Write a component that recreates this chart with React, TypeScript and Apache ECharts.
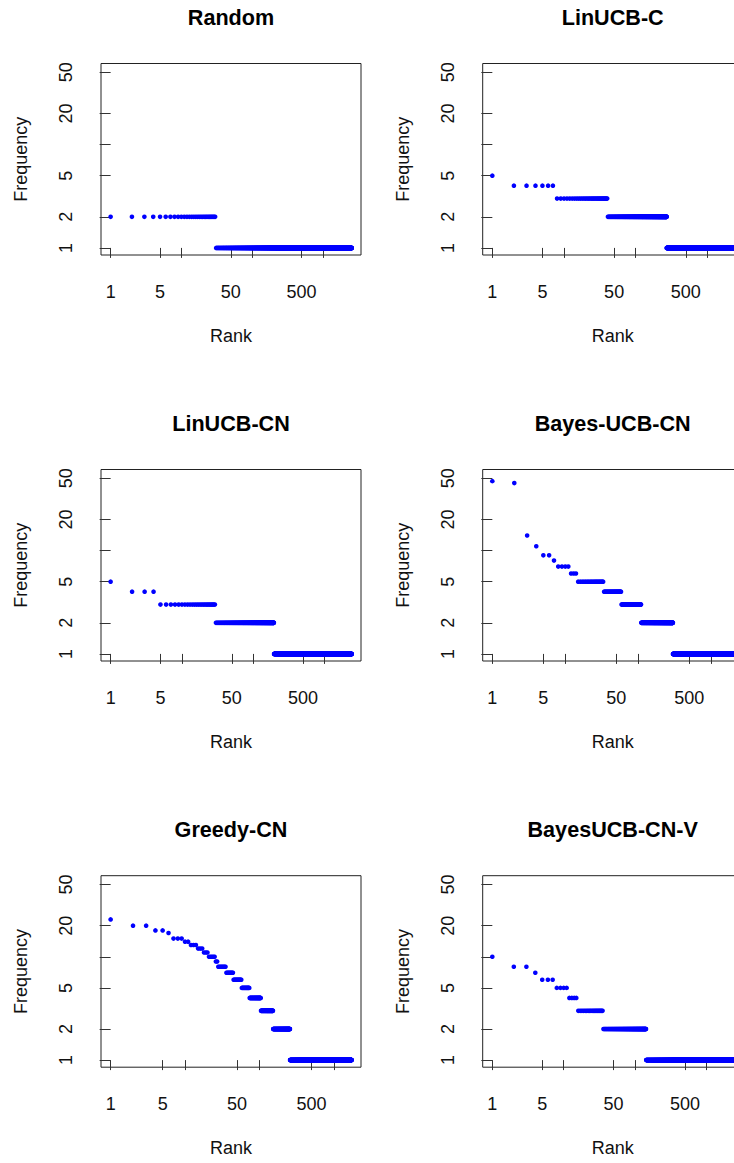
import React, { useEffect, useRef } from "react";
import * as echarts from "echarts";

// ---- data (rank-frequency: each frequency level and how many items share it) ----
const panelTitles = ["Random", "LinUCB-C", "LinUCB-CN", "Bayes-UCB-CN", "Greedy-CN", "BayesUCB-CN-V"];

const randomFreq = [2, 1];
const randomCount = [30, 2500];

const linucbCFreq = [5, 4, 3, 2, 1];
const linucbCCount = [1, 6, 33, 230, 2010];

const linucbCNFreq = [5, 4, 3, 2, 1];
const linucbCNCount = [1, 3, 25, 166, 2185];

const bayesUcbCNFreq = [47, 45, 14, 11, 9, 8, 7, 6, 5, 4, 3, 2, 1];
const bayesUcbCNCount = [1, 1, 1, 1, 2, 1, 4, 3, 19, 25, 51, 189, 1692];

const greedyCNFreq = [23, 20, 18, 17, 15, 14, 13, 12, 11, 10, 9, 8, 7, 6, 5, 4, 3, 2, 1];
const greedyCNCount = [1, 2, 2, 1, 3, 2, 3, 3, 3, 5, 2, 8, 9, 13, 16, 31, 48, 105, 1463];

const bayesUcbCNVFreq = [10, 8, 7, 6, 5, 4, 3, 2, 1];
const bayesUcbCNVCount = [1, 2, 1, 3, 4, 4, 20, 107, 2213];

const panelFreqs = [randomFreq, linucbCFreq, linucbCNFreq, bayesUcbCNFreq, greedyCNFreq, bayesUcbCNVFreq];
const panelCounts = [randomCount, linucbCCount, linucbCNCount, bayesUcbCNCount, greedyCNCount, bayesUcbCNVCount];

const xTickValues = [1, 5, 10, 50, 100, 500, 1000];
const xLabelValues = [1, 5, 50, 500];
const yTickValues = [1, 2, 5, 10, 20, 50];
const yLabelValues = [1, 2, 5, 20, 50];
const yLimit = [1, 52];

// ---- layout ----
const W = 734;
const H = 1163;
const colLefts = [101, 482.7];
const rowTops = [63.5, 469.5, 875.7];
const gridW = 260;
const gridH = 191.5;
const FONT = '"Liberation Sans", Arial, Helvetica, sans-serif';

const lg = (v: number) => Math.log10(v);

function buildPoints(freqs: number[], counts: number[]) {
  const pts: number[][] = [];
  let rank = 1;
  freqs.forEach((f, i) => {
    for (let k = 0; k < counts[i]; k++) {
      pts.push([lg(rank), lg(f)]);
      rank++;
    }
  });
  return { pts, maxRank: rank - 1 };
}

function buildOption() {
  const grids: any[] = [];
  const xAxes: any[] = [];
  const yAxes: any[] = [];
  const series: any[] = [];
  const graphics: any[] = [];
  const yD = lg(yLimit[1]) - lg(yLimit[0]);
  const fmt = (v: number) => String(Math.round(Math.pow(10, v)));

  panelTitles.forEach((title, i) => {
    const col = i % 2;
    const row = Math.floor(i / 2);
    const left = colLefts[col];
    const top = rowTops[row];
    const { pts, maxRank } = buildPoints(panelFreqs[i], panelCounts[i]);
    const xD = lg(maxRank);

    grids.push({
      left,
      top,
      width: gridW,
      height: gridH,
      show: true,
      borderColor: "#222",
      borderWidth: 1,
      backgroundColor: "transparent",
      containLabel: false,
      outerBoundsMode: "none",
    });
    xAxes.push({
      type: "value",
      gridIndex: i,
      min: -0.04 * xD,
      max: 1.04 * xD,
      name: "Rank",
      nameLocation: "middle",
      nameGap: 72,
      nameTextStyle: { fontSize: 18, fontFamily: FONT, color: "#111" },
      axisLine: { show: false },
      splitLine: { show: false },
      axisTick: {
        show: true,
        length: 10,
        customValues: xTickValues.map(lg),
        lineStyle: { color: "#333", width: 1 },
      },
      axisLabel: {
        customValues: xLabelValues.map(lg),
        formatter: fmt,
        fontSize: 18,
        fontFamily: FONT,
        color: "#111",
        margin: 28,
      },
    });
    yAxes.push({
      type: "value",
      gridIndex: i,
      min: lg(yLimit[0]) - 0.04 * yD,
      max: lg(yLimit[1]) + 0.04 * yD,
      name: "Frequency",
      nameLocation: "middle",
      nameGap: 71,
      nameRotate: 90,
      nameTextStyle: { fontSize: 18, fontFamily: FONT, color: "#111" },
      axisLine: { show: false },
      splitLine: { show: false },
      axisTick: {
        show: true,
        length: 11,
        customValues: yTickValues.map(lg),
        lineStyle: { color: "#333", width: 1 },
      },
      axisLabel: {
        customValues: yLabelValues.map(lg),
        formatter: fmt,
        rotate: 90,
        fontSize: 18,
        fontFamily: FONT,
        color: "#111",
        margin: 26,
      },
    });
    series.push({
      type: "scatter",
      xAxisIndex: i,
      yAxisIndex: i,
      data: pts,
      symbol: "circle",
      symbolSize: 4.6,
      large: false,
      progressive: 0,
      progressiveThreshold: 100000,
      itemStyle: { color: "#0000ff", opacity: 1 },
      silent: true,
      emphasis: { disabled: true },
    });
    graphics.push({
      type: "text",
      x: left + gridW / 2,
      y: top - 46,
      style: {
        text: title,
        fontSize: 21.6,
        fontWeight: "bold",
        fontFamily: FONT,
        fill: "#000",
        align: "center",
        verticalAlign: "middle",
        textAlign: "center",
        textVerticalAlign: "middle",
      },
    });
  });

  return {
    animation: false,
    backgroundColor: "#fff",
    grid: grids,
    xAxis: xAxes,
    yAxis: yAxes,
    series,
    graphic: graphics,
  };
}

export default function App() {
  const ref = useRef<HTMLDivElement>(null);
  useEffect(() => {
    if (!ref.current) return;
    const chart = echarts.init(ref.current, undefined, { renderer: "svg", width: W, height: H });
    chart.setOption(buildOption() as any);
    return () => chart.dispose();
  }, []);
  return (
    <div
      ref={ref}
      style={{ position: "absolute", left: 0, top: 0, width: W, height: H, background: "#fff" }}
    />
  );
}
